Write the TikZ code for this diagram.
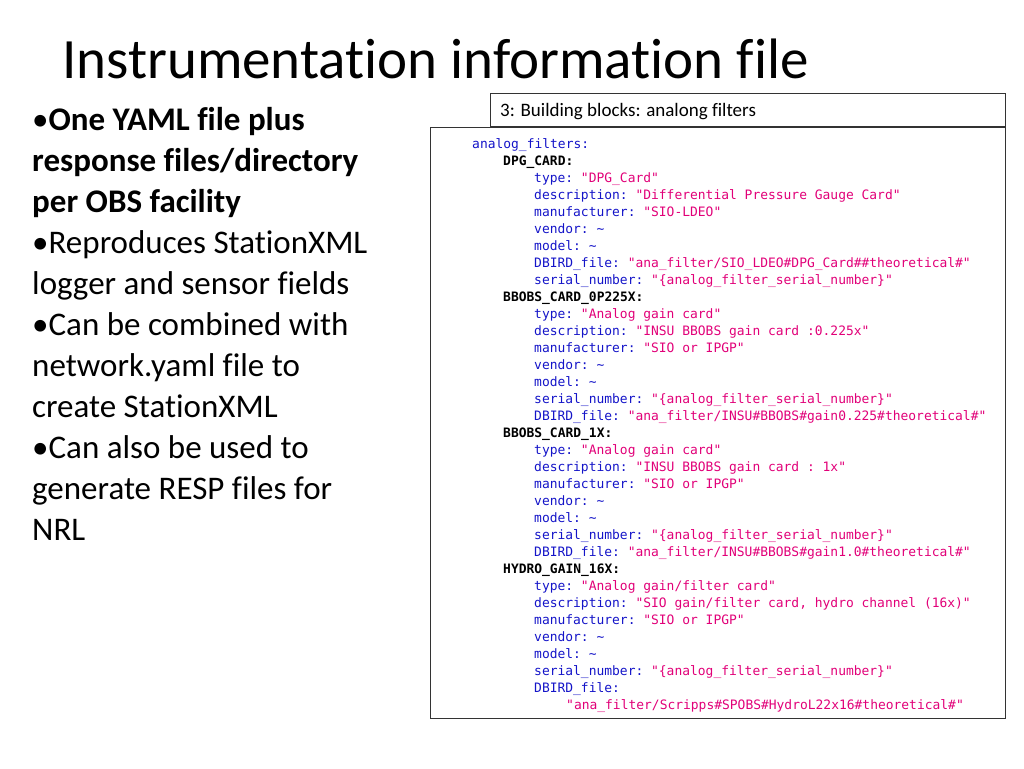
\documentclass[tikz,border=0pt]{standalone}
\usepackage{fontspec}
\setmainfont[Ligatures=NoCommon]{Carlito}
\setmonofont{DejaVu Sans Mono}
\definecolor{keyblue}{RGB}{20,20,200}
\definecolor{strpink}{RGB}{225,0,120}
\newcommand{\yk}[1]{\textcolor{keyblue}{#1}}
\newcommand{\ys}[1]{\textcolor{strpink}{#1}}
\begin{document}
\begin{tikzpicture}[x=1pt,y=-1pt,
  bullet/.style={anchor=base west, inner sep=0pt, font=\fontsize{33}{38}\selectfont},
  code/.style={anchor=base west, inner sep=0pt, font=\ttfamily\fontsize{12.95}{15}\selectfont},
  frame/.style={draw=black!80, line width=0.8pt}]
\useasboundingbox (0,0) rectangle (1024,768);
% title
\node[anchor=base west, inner sep=0pt, font=\fontsize{57}{64}\selectfont] (title) at (62,78) {Instrumentation information file};
% left bullets
\node[bullet] (b1) at (32,130) {\textbullet\textbf{One YAML file plus}};
\node[bullet] (b2) at (32,171) {\textbf{response files/directory}};
\node[bullet] (b3) at (32,212) {\textbf{per OBS facility}};
\node[bullet] (b4) at (32,253) {\textbullet Reproduces StationXML};
\node[bullet] (b5) at (32,294) {logger and sensor fields};
\node[bullet] (b6) at (32,335) {\textbullet Can be combined with};
\node[bullet] (b7) at (32,376) {network.yaml file to};
\node[bullet] (b8) at (32,417) {create StationXML};
\node[bullet] (b9) at (32,458) {\textbullet Can also be used to};
\node[bullet] (b10) at (32,499) {generate RESP files for};
\node[bullet] (b11) at (32,540) {NRL};
% boxes
\draw[frame] (490,93) rectangle (1005,126);
\node[anchor=base west, inner sep=0pt, font=\fontsize{19}{22}\selectfont] (head) at (500,116) {3: Building blocks: analong filters};
\draw[frame] (430,127) rectangle (1005,718);
% code
\node[code] (c1) at (472,148) {\yk{analog\_filters:}};
\node[code] (c2) at (503,165) {\textbf{DPG\_CARD:}};
\node[code] (c3) at (534,182) {\yk{type:} \ys{"DPG\_Card"}};
\node[code] (c4) at (534,199) {\yk{description:} \ys{"Differential Pressure Gauge Card"}};
\node[code] (c5) at (534,216) {\yk{manufacturer:} \ys{"SIO-LDEO"}};
\node[code] (c6) at (534,233) {\yk{vendor: \textasciitilde}};
\node[code] (c7) at (534,250) {\yk{model: \textasciitilde}};
\node[code] (c8) at (534,267) {\yk{DBIRD\_file:} \ys{"ana\_filter/SIO\_LDEO\#DPG\_Card\#\#theoretical\#"}};
\node[code] (c9) at (534,284) {\yk{serial\_number:} \ys{"\{analog\_filter\_serial\_number\}"}};
\node[code] (c10) at (503,301) {\textbf{BBOBS\_CARD\_0P225X:}};
\node[code] (c11) at (534,318) {\yk{type:} \ys{"Analog gain card"}};
\node[code] (c12) at (534,335) {\yk{description:} \ys{"INSU BBOBS gain card :0.225x"}};
\node[code] (c13) at (534,352) {\yk{manufacturer:} \ys{"SIO or IPGP"}};
\node[code] (c14) at (534,369) {\yk{vendor: \textasciitilde}};
\node[code] (c15) at (534,386) {\yk{model: \textasciitilde}};
\node[code] (c16) at (534,403) {\yk{serial\_number:} \ys{"\{analog\_filter\_serial\_number\}"}};
\node[code] (c17) at (534,420) {\yk{DBIRD\_file:} \ys{"ana\_filter/INSU\#BBOBS\#gain0.225\#theoretical\#"}};
\node[code] (c18) at (503,437) {\textbf{BBOBS\_CARD\_1X:}};
\node[code] (c19) at (534,454) {\yk{type:} \ys{"Analog gain card"}};
\node[code] (c20) at (534,471) {\yk{description:} \ys{"INSU BBOBS gain card : 1x"}};
\node[code] (c21) at (534,488) {\yk{manufacturer:} \ys{"SIO or IPGP"}};
\node[code] (c22) at (534,505) {\yk{vendor: \textasciitilde}};
\node[code] (c23) at (534,522) {\yk{model: \textasciitilde}};
\node[code] (c24) at (534,539) {\yk{serial\_number:} \ys{"\{analog\_filter\_serial\_number\}"}};
\node[code] (c25) at (534,556) {\yk{DBIRD\_file:} \ys{"ana\_filter/INSU\#BBOBS\#gain1.0\#theoretical\#"}};
\node[code] (c26) at (503,573) {\textbf{HYDRO\_GAIN\_16X:}};
\node[code] (c27) at (534,590) {\yk{type:} \ys{"Analog gain/filter card"}};
\node[code] (c28) at (534,607) {\yk{description:} \ys{"SIO gain/filter card, hydro channel (16x)"}};
\node[code] (c29) at (534,624) {\yk{manufacturer:} \ys{"SIO or IPGP"}};
\node[code] (c30) at (534,641) {\yk{vendor: \textasciitilde}};
\node[code] (c31) at (534,658) {\yk{model: \textasciitilde}};
\node[code] (c32) at (534,675) {\yk{serial\_number:} \ys{"\{analog\_filter\_serial\_number\}"}};
\node[code] (c33) at (534,692) {\yk{DBIRD\_file:}};
\node[code] (c34) at (566,709) {\ys{"ana\_filter/Scripps\#SPOBS\#HydroL22x16\#theoretical\#"}};
\end{tikzpicture}
\end{document}
